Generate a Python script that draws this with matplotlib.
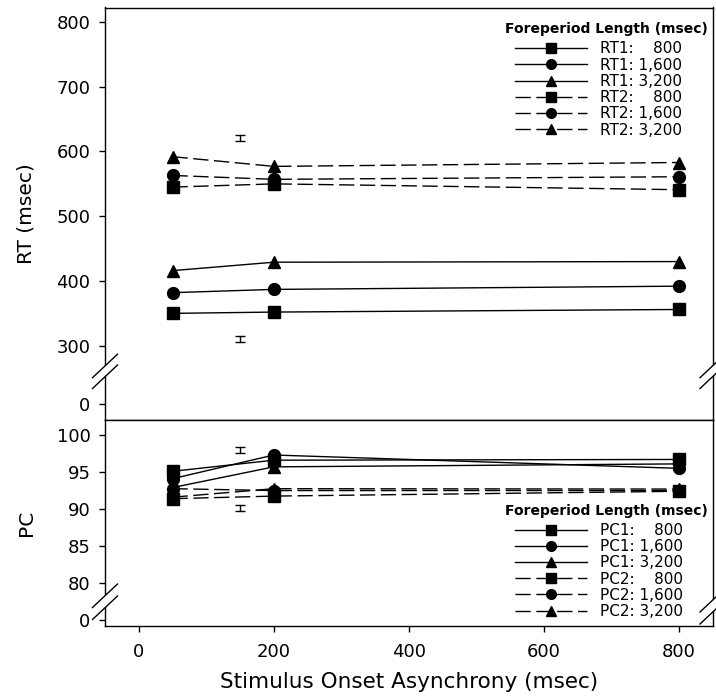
import numpy as np
import matplotlib
matplotlib.use("Agg")
import matplotlib.pyplot as plt
from matplotlib.lines import Line2D
from matplotlib.patches import Polygon

plt.rcParams['font.family'] = ['DejaVu Sans']

# ---------------- data ----------------
soa = [50, 200, 800]

rt1_800 = [350, 352, 356]
rt1_1600 = [382, 387, 392]
rt1_3200 = [416, 429, 430]
rt2_800 = [545, 550, 541]
rt2_1600 = [563, 557, 561]
rt2_3200 = [592, 577, 583]

pc1_800 = [95.1, 96.6, 96.7]
pc1_1600 = [94.1, 97.3, 95.5]
pc1_3200 = [92.9, 95.7, 96.1]
pc2_800 = [91.4, 91.75, 92.4]
pc2_1600 = [92.75, 92.5, 92.5]
pc2_3200 = [91.6, 92.75, 92.7]

rt_err_x = [150, 150]
rt_err_y = [621, 310]
rt_err = [4.5, 4.5]
pc_err_x = [150, 150]
pc_err_y = [98.0, 90.15]
pc_err = [0.4, 0.45]

rt_labels = ["RT1:    800", "RT1: 1,600", "RT1: 3,200",
             "RT2:    800", "RT2: 1,600", "RT2: 3,200"]
pc_labels = ["PC1:    800", "PC1: 1,600", "PC1: 3,200",
             "PC2:    800", "PC2: 1,600", "PC2: 3,200"]
legend_title = "Foreperiod Length (msec)"

rt_yticks = [0, 300, 400, 500, 600, 700, 800]
pc_yticks = [0, 80, 85, 90, 95, 100]
xticks = [0, 200, 400, 600, 800]

# ---------------- figure ----------------
W, H = 716, 700
fig = plt.figure(figsize=(W / 100, H / 100), dpi=100)

def fx(x):
    return x / W

def fy(y):
    return 1 - y / H

left, right = 105, 712.5
top_t, mid, bot = 7.5, 420, 626

ax1 = fig.add_axes([fx(left), fy(mid), fx(right) - fx(left), fy(top_t) - fy(mid)])
ax2 = fig.add_axes([fx(left), fy(bot), fx(right) - fx(left), fy(mid) - fy(bot)])

# broken scales
def rt_fwd(v):
    v = np.asarray(v, dtype=float)
    return np.where(v >= 300, v, 210 + v * (90 / 300))

def rt_inv(u):
    u = np.asarray(u, dtype=float)
    return np.where(u >= 300, u, (u - 210) * (300 / 90))

def pc_fwd(v):
    v = np.asarray(v, dtype=float)
    return np.where(v >= 80, v, 75 + v * (5 / 80))

def pc_inv(u):
    u = np.asarray(u, dtype=float)
    return np.where(u >= 80, u, (u - 75) * 16)

ax1.set_yscale('function', functions=(rt_fwd, rt_inv))
ax2.set_yscale('function', functions=(pc_fwd, pc_inv))

lw = 1.0
dash = (0, (11, 4))
ms = {'s': 8.5, 'o': 8.5, '^': 8}
styles = [('s', '-'), ('o', '-'), ('^', '-'), ('s', dash), ('o', dash), ('^', dash)]

rt_series = [rt1_800, rt1_1600, rt1_3200, rt2_800, rt2_1600, rt2_3200]
pc_series = [pc1_800, pc1_1600, pc1_3200, pc2_800, pc2_1600, pc2_3200]

for ser, lab, (m, ls) in zip(rt_series, rt_labels, styles):
    ax1.plot(soa, ser, color='black', lw=lw, linestyle=ls, marker=m,
             markersize=ms[m], label=lab, clip_on=False)
for ser, lab, (m, ls) in zip(pc_series, pc_labels, styles):
    ax2.plot(soa, ser, color='black', lw=lw, linestyle=ls, marker=m,
             markersize=ms[m], label=lab, clip_on=False)

ax1.errorbar(rt_err_x, rt_err_y, yerr=rt_err, fmt='none', ecolor='black',
             elinewidth=1, capsize=3.6, capthick=1)
ax2.errorbar(pc_err_x, pc_err_y, yerr=pc_err, fmt='none', ecolor='black',
             elinewidth=1, capsize=3.6, capthick=1)

for ax in (ax1, ax2):
    ax.set_xlim(-50, 850)
    for s in ax.spines.values():
        s.set_linewidth(1.0)

ax1.set_ylim(rt_inv(185.3), 822.4)
ax2.set_ylim(pc_inv(74.2), 102.03)

ax1.set_yticks(rt_yticks)
ax1.set_yticklabels([str(t) for t in rt_yticks])
ax2.set_yticks(pc_yticks)
ax2.set_yticklabels([str(t) for t in pc_yticks])
ax2.set_xticks(xticks)
ax2.set_xticklabels([str(t) for t in xticks])
ax1.minorticks_off()
ax2.minorticks_off()

ax1.tick_params(axis='x', bottom=False, labelbottom=False)
ax1.tick_params(axis='y', direction='out', length=4.5, width=1, labelsize=13, pad=6)
ax2.tick_params(axis='y', direction='out', length=4.5, width=1, labelsize=13, pad=6)
ax2.tick_params(axis='x', direction='out', length=4, width=1, labelsize=13, pad=8)

ax2.set_xlabel("Stimulus Onset Asynchrony (msec)", fontsize=15.5, labelpad=8)
fig.text(fx(26), (fy(top_t) + fy(mid)) / 2, "RT (msec)", rotation=90,
         fontsize=14.5, ha='center', va='center')
fig.text(fx(26), (fy(mid) + fy(bot)) / 2, "PC", rotation=90,
         fontsize=14.5, ha='center', va='center')

# legends (title drawn as separate text)
fig.text(fx(606), fy(28.5), legend_title, fontsize=10, fontweight='bold',
         ha='center', va='center')
fig.text(fx(606), fy(511), legend_title, fontsize=10, fontweight='bold',
         ha='center', va='center')

leg_kw = dict(bbox_transform=fig.transFigure, frameon=False, fontsize=11,
              borderpad=0, borderaxespad=0, handlelength=4.7,
              handletextpad=0.85, labelspacing=0.08, numpoints=1,
              markerscale=0.82)
ax1.legend(loc='center left', bbox_to_anchor=(fx(515), fy(89.5)), **leg_kw)
ax2.legend(loc='center left', bbox_to_anchor=(fx(515), fy(571)), **leg_kw)

# axis-break marks
def brk(xc, y_up, y_lo):
    dx, dy = 12.5, 23.5
    pts = [(xc - dx, y_up), (xc + dx, y_up - dy), (xc + dx, y_lo - dy), (xc - dx, y_lo)]
    fig.add_artist(Polygon([(fx(a), fy(b)) for a, b in pts], closed=True,
                           facecolor='white', edgecolor='none',
                           transform=fig.transFigure, zorder=5))
    for yy in (y_up, y_lo):
        fig.add_artist(Line2D([fx(xc - dx), fx(xc + dx)], [fy(yy), fy(yy - dy)],
                              color='black', lw=1.0, transform=fig.transFigure, zorder=6))

brk(left, 377.7, 388.5)
brk(right, 377.7, 388.5)
brk(left, 607.5, 619.5)
brk(right, 612, 624)

fig.savefig("out.png", dpi=100)
